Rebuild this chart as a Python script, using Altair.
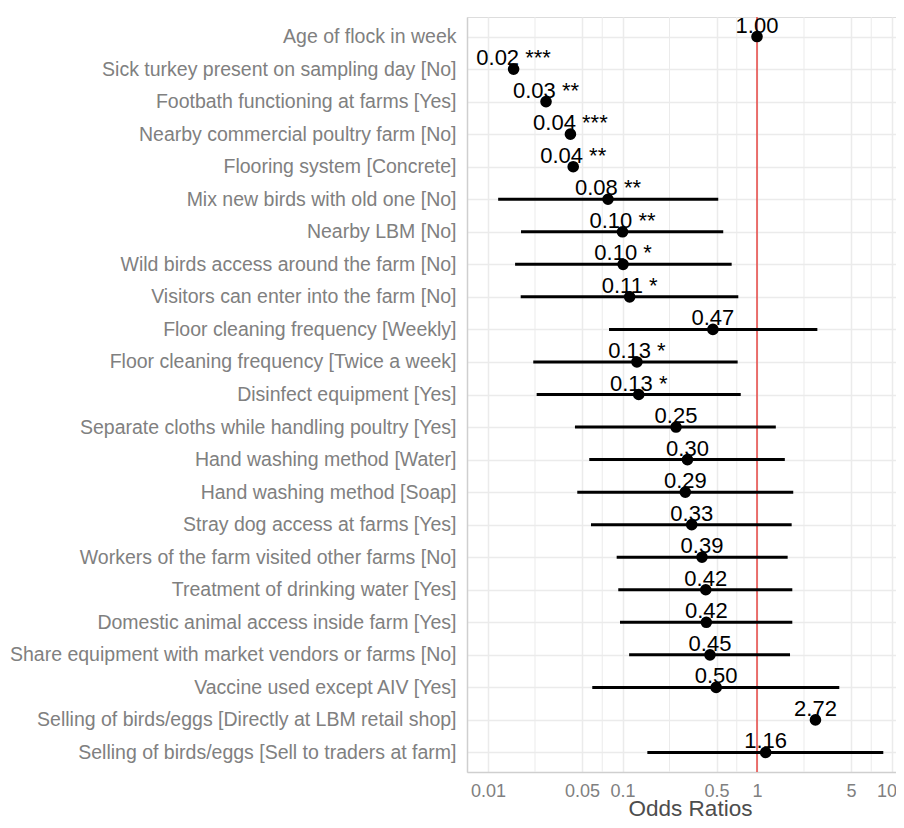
import altair as alt
import pandas as pd

labels = [
    "Age of flock in week",
    "Sick turkey present on sampling day [No]",
    "Footbath functioning at farms [Yes]",
    "Nearby commercial poultry farm [No]",
    "Flooring system [Concrete]",
    "Mix new birds with old one [No]",
    "Nearby LBM [No]",
    "Wild birds access around the farm [No]",
    "Visitors can enter into the farm [No]",
    "Floor cleaning frequency [Weekly]",
    "Floor cleaning frequency [Twice a week]",
    "Disinfect equipment [Yes]",
    "Separate cloths while handling poultry [Yes]",
    "Hand washing method [Water]",
    "Hand washing method [Soap]",
    "Stray dog access at farms [Yes]",
    "Workers of the farm visited other farms [No]",
    "Treatment of drinking water [Yes]",
    "Domestic animal access inside farm [Yes]",
    "Share equipment with market vendors or farms [No]",
    "Vaccine used except AIV [Yes]",
    "Selling of birds/eggs [Directly at LBM retail shop]",
    "Selling of birds/eggs [Sell to traders at farm]",
]
odds = [1.00, 0.0155, 0.027, 0.041, 0.043, 0.078, 0.100, 0.101, 0.113, 0.47,
        0.128, 0.132, 0.25, 0.304, 0.293, 0.327, 0.39, 0.416, 0.42, 0.447,
        0.497, 2.72, 1.16]
ci_low = [None, None, None, None, None, 0.0119, 0.0176, 0.0159, 0.0175, 0.0794,
          0.0217, 0.023, 0.0443, 0.0566, 0.0461, 0.0583, 0.0905, 0.093, 0.0958, 0.112,
          0.0596, None, 0.153]
ci_high = [None, None, None, None, None, 0.515, 0.561, 0.648, 0.726, 2.81,
           0.718, 0.757, 1.38, 1.61, 1.86, 1.81, 1.69, 1.83, 1.83, 1.76,
           4.09, None, 8.69]
stars = ["", "***", "**", "***", "**", "**", "**", "*", "*", "",
         "*", "*", "", "", "", "", "", "", "", "",
         "", "", ""]
major_breaks = [0.01, 0.05, 0.1, 0.5, 1, 5, 10]
minor_breaks = [0.02236, 0.07071, 0.2236, 0.7071, 2.236, 7.071]
x_domain = [0.00698, 10.8]
ref_value = [1]

df = pd.DataFrame({
    "term": labels,
    "or": odds,
    "low": ci_low,
    "high": ci_high,
    "stars": stars,
})
df["lab"] = [f"{o:.2f}" + (f" {s}" if s else "") for o, s in zip(odds, stars)]

FONT = "Liberation Sans"
xscale = alt.Scale(type="log", domain=x_domain, nice=False, zero=False)
yscale = alt.Scale(type="point", padding=0.6)

base = alt.Chart(df)

xaxis = alt.Axis(
    values=major_breaks, format="~g", title="Odds Ratios",
    grid=True, gridColor="#ebebeb", gridWidth=1.5,
    ticks=False, domain=True, domainColor="#cfcfcf", domainWidth=1.5,
    labelFont=FONT, labelFontSize=18, labelColor="#808080", labelPadding=10,
    labelOffset={"condition": {"test": "datum.value >= 10", "value": -5}, "value": 0},
    titleFont=FONT, titleFontSize=22.5, titleColor="#4d4d4d", titleFontWeight="normal",
    titleX=223, titleY=43, titleAlign="center", titleBaseline="alphabetic",
    labelFlush=False, labelOverlap=False,
)
yaxis = alt.Axis(
    title=None, grid=True, gridColor="#ebebeb", gridWidth=1.5,
    ticks=False, domain=True, domainColor="#cfcfcf", domainWidth=1.5,
    labelFont=FONT, labelFontSize=19.5, labelColor="#808080", labelPadding=11,
    labelLimit=0,
)

minor = alt.Chart(pd.DataFrame({"m": minor_breaks})).mark_rule(
    color="#ebebeb", strokeWidth=1
).encode(x=alt.X("m:Q", scale=xscale, axis=xaxis))

ref = alt.Chart(pd.DataFrame({"r": ref_value})).mark_rule(
    color="#e53935", strokeWidth=1.4
).encode(x=alt.X("r:Q", scale=xscale))

bars = base.transform_filter("isValid(datum.low)").mark_rule(
    color="black", strokeWidth=3
).encode(
    x=alt.X("low:Q", scale=xscale),
    x2="high:Q",
    y=alt.Y("term:N", sort=labels, scale=yscale, axis=yaxis),
)

pts = base.mark_circle(size=135, color="black", opacity=1).encode(
    x=alt.X("or:Q", scale=xscale),
    y=alt.Y("term:N", sort=labels, scale=yscale, axis=yaxis),
)

txt = base.mark_text(
    font=FONT, fontSize=22, color="black", baseline="alphabetic", dy=-4, align="center"
).encode(
    x=alt.X("or:Q", scale=xscale),
    y=alt.Y("term:N", sort=labels, scale=yscale, axis=yaxis),
    text="lab:N",
)

chart = alt.layer(minor, ref, bars, pts, txt).properties(
    width=429, height=755,
    autosize=alt.AutoSizeParams(type="none"),
    padding={"left": 459, "top": 9, "right": 0, "bottom": 48},
).configure_view(stroke=None).configure(background="white")

chart.save("out.html", embed_options={"renderer": "svg", "actions": False})
